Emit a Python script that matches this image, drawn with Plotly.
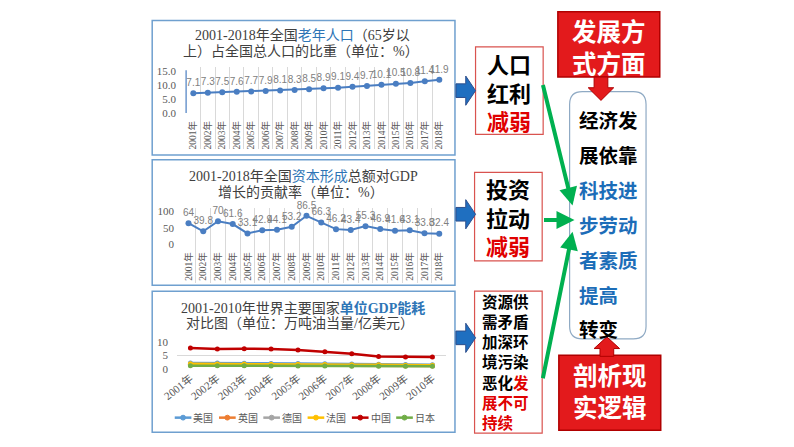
import plotly.graph_objects as go

W, H = 794, 447

# ---------------- data ----------------
years18 = ["2001", "2002", "2003", "2004", "2005", "2006", "2007", "2008", "2009",
           "2010", "2011", "2012", "2013", "2014", "2015", "2016", "2017", "2018"]
aging_ratio = [7.1, 7.3, 7.5, 7.6, 7.7, 7.9, 8.1, 8.3, 8.5, 8.9, 9.1, 9.4, 9.7, 10.1, 10.5, 10.8, 11.4, 11.9]
capital_contrib = [64, 39.8, 70, 61.6, 33.1, 42.9, 44.1, 53.2, 86.5, 66.3, 46.2, 43.4, 55.3, 46.9, 41.6, 43.1, 33.8, 32.4]

years10 = ["2001", "2002", "2003", "2004", "2005", "2006", "2007", "2008", "2009", "2010"]
countries = ["美国", "英国", "德国", "法国", "中国", "日本"]
energy_usa = [2.3, 2.3, 2.2, 2.1, 2.1, 2.0, 1.9, 1.8, 1.7, 1.6]
energy_uk = [1.6, 1.6, 1.5, 1.5, 1.4, 1.4, 1.3, 1.3, 1.2, 1.2]
energy_germany = [1.8, 1.8, 1.7, 1.7, 1.6, 1.6, 1.5, 1.5, 1.4, 1.4]
energy_france = [2.0, 1.9, 1.9, 1.8, 1.8, 1.7, 1.6, 1.6, 1.5, 1.5]
energy_china = [7.7, 7.4, 7.5, 7.4, 7.0, 6.4, 5.6, 4.6, 4.5, 4.5]
energy_japan = [1.3, 1.3, 1.3, 1.2, 1.2, 1.2, 1.1, 1.1, 1.1, 1.1]
country_colors = ["#5B9BD5", "#ED7D31", "#A5A5A5", "#FFC000", "#C00000", "#70AD47"]

labels18 = [y + "年" for y in years18]
labels10 = [y + "年" for y in years10]

# ---------------- helpers ----------------
def X(x):
    return x / W


def Y(y):
    return 1 - y / H


SERIF = "Liberation Serif, Noto Sans CJK SC"
CJK = "Noto Sans CJK SC"
NARROW = "Liberation Sans Narrow, Liberation Sans"
GRAY = "#595959"
LINE_BLUE = "#4A7EC2"
TITLE_BLUE = "#2E75B6"

fig = go.Figure()

# panel 1: aging ratio
fig.add_trace(go.Scatter(
    x=labels18, y=aging_ratio, mode="lines+markers+text",
    text=[f"{v:g}" for v in aging_ratio], textposition="top center",
    textfont=dict(family=NARROW, size=10, color="#808080"),
    line=dict(color=LINE_BLUE, width=2), marker=dict(size=6, color=LINE_BLUE),
    cliponaxis=False, showlegend=False, xaxis="x", yaxis="y"))

# panel 2: capital formation contribution
fig.add_trace(go.Scatter(
    x=labels18, y=capital_contrib, mode="lines+markers+text",
    text=[f"{v:g}" for v in capital_contrib], textposition="top center",
    textfont=dict(family=NARROW, size=10, color="#808080"),
    line=dict(color=LINE_BLUE, width=2), marker=dict(size=6, color=LINE_BLUE),
    cliponaxis=False, showlegend=False, xaxis="x2", yaxis="y2"))

# panel 3: energy intensity
series3 = [energy_usa, energy_uk, energy_germany, energy_france, energy_china, energy_japan]
for name, vals, col in zip(countries, series3, country_colors):
    fig.add_trace(go.Scatter(
        x=labels10, y=vals, mode="lines+markers", name=name,
        line=dict(color=col, width=2.5), marker=dict(size=5, color=col),
        cliponaxis=False, showlegend=False, xaxis="x3", yaxis="y3"))

# ---------------- axes ----------------
cat_common = dict(type="category", showgrid=True, gridcolor="#D9D9D9", gridwidth=1,
                  tickson="boundaries", ticks="", tickangle=-90, ticklabelstandoff=5,
                  zeroline=False, showline=False, anchor="free",
                  tickfont=dict(family=SERIF, size=9.5, color=GRAY), fixedrange=True)

# panel 1 vertical scale: 0 at y=110px, 15 at y=67px
p1_px = (110 - 67) / 15
p2_px = (245 - 211) / 100

layout_axes = dict(
    xaxis=dict(domain=[X(173.6), X(439.4)], position=Y(110), range=[-0.5, 17.5], **cat_common),
    yaxis=dict(domain=[Y(147), Y(63)], anchor="x", range=[-(147 - 110) / p1_px, 15 + 4 / p1_px],
               tickvals=[0, 5, 10, 15], tickformat=".1f", showgrid=False, zeroline=False,
               showline=False, ticks="", ticklabelstandoff=9,
               tickfont=dict(family=SERIF, size=11, color=GRAY)),
    xaxis2=dict(domain=[X(168.5), X(439.5)], position=Y(245), range=[-0.5, 17.5], **cat_common),
    yaxis2=dict(domain=[Y(285), Y(208)], anchor="x2", range=[-(285 - 245) / p2_px, 100 + 3 / p2_px],
                tickvals=[0, 50, 100], showgrid=False, zeroline=False, showline=False, ticks="",
                ticklabelstandoff=6, tickfont=dict(family=SERIF, size=11, color=GRAY)),
    xaxis3=dict(domain=[X(164.3), X(438.7)], anchor="y3", type="category", range=[-0.5, 9.5],
                showgrid=False, zeroline=False, showline=False, ticks="", tickangle=-38,
                tickfont=dict(family=SERIF, size=11, color=GRAY)),
    yaxis3=dict(domain=[Y(373.3), Y(345)], anchor="x3", range=[0, 10], tickvals=[0, 5, 10],
                showgrid=True, gridcolor="#D9D9D9", zeroline=False, showline=False, ticks="",
                ticklabelstandoff=8, tickfont=dict(family=SERIF, size=11, color=GRAY)),
)

# ---------------- shapes ----------------
shapes = []

# blue value-axis line of panel 1 (from 0 to 15)
shapes.append(dict(type="line", xref="x domain", yref="y", x0=0, x1=0, y0=0, y1=15.3,
                   line=dict(color=LINE_BLUE, width=1.2), layer="above"))


def rect(x0, y0, x1, y1, line="#6FA0CF", fill="rgba(0,0,0,0)", width=1.5, layer="below"):
    shapes.append(dict(type="rect", xref="paper", yref="paper",
                       x0=X(x0), x1=X(x1), y0=Y(y1), y1=Y(y0),
                       line=dict(color=line, width=width), fillcolor=fill, layer=layer))


def poly(points, fill, line, width=1):
    path = "M " + " L ".join(f"{X(a):.5f},{Y(b):.5f}" for a, b in points) + " Z"
    shapes.append(dict(type="path", xref="paper", yref="paper", path=path,
                       fillcolor=fill, line=dict(color=line, width=width), layer="above"))


# chart panels
rect(139, 15, 448, 153)
rect(139, 158, 448, 287)
rect(139, 293, 448, 438)

# blue block arrows
for cy in [87, 214, 341]:
    poly([(449, cy - 7), (459, cy - 7), (459, cy - 15), (469, cy), (459, cy + 15),
          (459, cy + 7), (449, cy + 7)], "#1F6FC0", "#2D4E8C", 1)

# red-bordered boxes
rect(469, 42, 538, 132, line="#D9534F", width=1.2)
rect(468, 171, 537, 262, line="#D9534F", width=1.2)
rect(468, 293, 537, 439, line="#D9534F", width=1.2)

# rounded center box
x0, x1, y0, y1, r = 565, 643, 88, 342, 13
rx, ry = r / W, r / H
p = (f"M {X(x0)+rx},{Y(y0)} L {X(x1)-rx},{Y(y0)} Q {X(x1)},{Y(y0)} {X(x1)},{Y(y0)-ry} "
     f"L {X(x1)},{Y(y1)+ry} Q {X(x1)},{Y(y1)} {X(x1)-rx},{Y(y1)} "
     f"L {X(x0)+rx},{Y(y1)} Q {X(x0)},{Y(y1)} {X(x0)},{Y(y1)+ry} "
     f"L {X(x0)},{Y(y0)-ry} Q {X(x0)},{Y(y0)} {X(x0)+rx},{Y(y0)} Z")
shapes.append(dict(type="path", xref="paper", yref="paper", path=p,
                   line=dict(color="#8FAAC4", width=1.2), fillcolor="rgba(0,0,0,0)", layer="below"))

# red boxes
RED = "#E31A1C"
rect(553, 6, 657, 73, line="#B00000", fill=RED, width=1.5, layer="below")
rect(554, 359, 658, 436, line="#B00000", fill=RED, width=1.5, layer="below")

# red arrows
poly([(590, 73), (604, 73), (604, 84), (610, 84), (597, 97), (584, 84), (590, 84)], RED, "#B00000", 1)
poly([(596, 360), (610, 360), (610, 352), (616, 352), (603, 340), (590, 352), (596, 352)], RED, "#B00000", 1)

# custom legend for panel 3
for i, (name, col) in enumerate(zip(countries, country_colors)):
    lx = 162 + i * 45.2
    shapes.append(dict(type="line", xref="paper", yref="paper", x0=X(lx), x1=X(lx + 17),
                       y0=Y(423), y1=Y(423), line=dict(color=col, width=2.5), layer="above"))
    shapes.append(dict(type="circle", xref="paper", yref="paper", x0=X(lx + 6), x1=X(lx + 11),
                       y0=Y(425.5), y1=Y(420.5), line=dict(color=col, width=1), fillcolor=col,
                       layer="above"))

# ---------------- annotations ----------------
ann = []


def txt(x, y, text, size, color="#000000", family=CJK, bold=False, xanchor="center", align="center"):
    ann.append(dict(x=X(x), y=Y(y), xref="paper", yref="paper", text=text, showarrow=False,
                    xanchor=xanchor, yanchor="middle", align=align, borderpad=0,
                    font=dict(family=family, size=size, color=color,
                              weight="bold" if bold else "normal")))


TC = "#404040"
txt(292, 30, f"2001-2018年全国<span style='color:{TITLE_BLUE}'>老年人口</span>（65岁以", 14, TC, SERIF)
txt(291, 46, "上）占全国总人口的比重（单位：%）", 14, TC, SERIF)
txt(293, 175, f"2001-2018年全国<span style='color:{TITLE_BLUE}'>资本形成</span>总额对GDP", 14, TC, SERIF)
txt(291, 191, "增长的贡献率（单位：%）", 14, TC, SERIF)
txt(293, 310, f"2001-2010年世界主要国家<span style='color:{TITLE_BLUE}'><b>单位GDP能耗</b></span>", 14, TC, SERIF)
txt(290, 326, "对比图（单位：万吨油当量/亿美元）", 14, TC, SERIF)

for i, name in enumerate(countries):
    lx = 162 + i * 45.2
    txt(lx + 18, 423, name, 10, GRAY, SERIF, xanchor="left")

RTEXT = "#E00000"
txt(503, 88, f"人口<br>红利<br><span style='color:{RTEXT}'>减弱</span>", 22, bold=True)
txt(502, 216, f"投资<br>拉动<br><span style='color:{RTEXT}'>减弱</span>", 22, bold=True)

box3 = ["资源供", "需矛盾", "加深环", "境污染",
        f"恶化<span style='color:{RTEXT}'>发</span>",
        f"<span style='color:{RTEXT}'>展不可</span>", f"<span style='color:{RTEXT}'>持续</span>"]
txt(475, 365.5, "<br>".join(box3), 15.5, bold=True, xanchor="left", align="left")

BT = "#1C6DB8"
center_lines = [("经济发", "#000000"), ("展依靠", "#000000"), ("科技进", BT), ("步劳动", BT),
                ("者素质", BT), ("提高", BT), ("转变", "#000000")]
for i, (t, c) in enumerate(center_lines):
    txt(574, 117 + i * 35.8, t, 19.5, c, bold=True, xanchor="left")

txt(605, 42, "发展方<br>式方面", 24.5, "#FFFFFF", bold=True)
txt(606, 395, "剖析现<br>实逻辑", 24.5, "#FFFFFF", bold=True)

# green arrows
GREEN = "#00B050"
for (tx, ty), (hx, hy) in [((538, 83), (568, 205)), ((538, 220), (570, 220)), ((538, 380), (568, 232))]:
    ann.append(dict(x=X(hx), y=Y(hy), xref="paper", yref="paper", text="", showarrow=True,
                    ax=tx - hx, ay=ty - hy, axref="pixel", ayref="pixel",
                    arrowhead=2, arrowsize=0.9, arrowwidth=4, arrowcolor=GREEN, standoff=0,
                    startstandoff=0))

fig.update_layout(
    width=W, height=H, margin=dict(l=0, r=0, t=0, b=0),
    paper_bgcolor="#FFFFFF", plot_bgcolor="rgba(0,0,0,0)",
    showlegend=False, shapes=shapes, annotations=ann, **layout_axes)

fig.write_html("out.html")
